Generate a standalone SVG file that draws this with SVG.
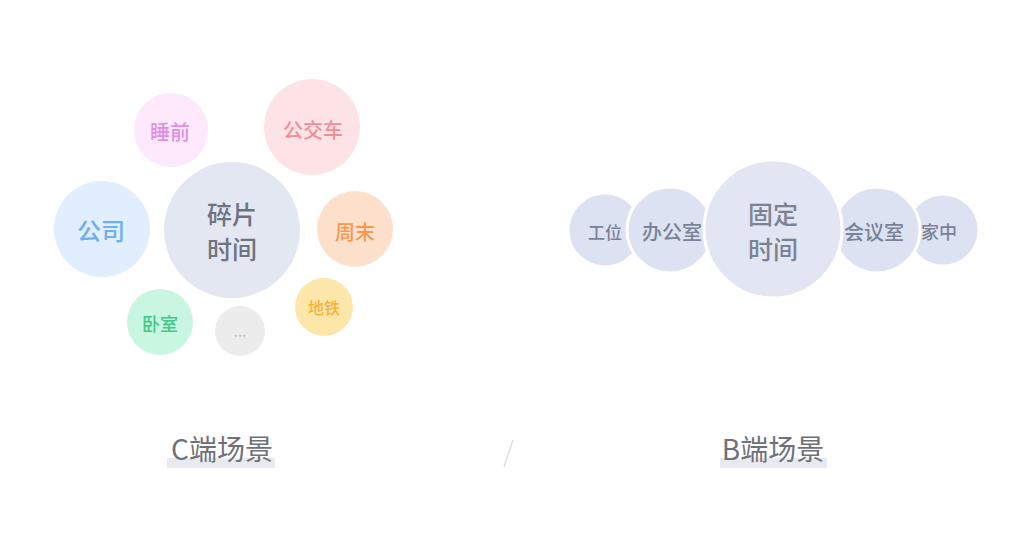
<svg xmlns="http://www.w3.org/2000/svg" width="1028" height="534" viewBox="0 0 1028 534">
<style>
text{font-family:"Noto Sans CJK SC","Noto Sans",sans-serif;text-anchor:middle;dominant-baseline:central;font-weight:500}
.b circle{fill:#dde2f3;stroke:#fff;stroke-width:3}
.b text{fill:#7a8296}
.lbl{font-size:28px;fill:#6f7178;dominant-baseline:alphabetic;font-weight:400}
</style>
<rect width="1028" height="534" fill="#fff"/>
<g id="c-scene">
<g id="c-shuiqian"><circle cx="171" cy="130" r="37" fill="#fde8fc"/><text x="170" y="131" font-size="20" fill="#e08ee3">睡前</text></g>
<g id="c-gongjiaoche"><circle cx="312" cy="127" r="48" fill="#fde3e6"/><text x="313" y="129" font-size="20" fill="#ef8e98">公交车</text></g>
<g id="c-gongsi"><circle cx="102" cy="229" r="48" fill="#e0eefd"/><text x="101" y="229" font-size="24" fill="#6dafef">公司</text></g>
<g id="c-center"><circle cx="232" cy="230" r="68" fill="#e3e7f1"/><text x="232" y="213" font-size="25" fill="#6d7380">碎片</text><text x="232" y="248" font-size="25" fill="#6d7380">时间</text></g>
<g id="c-zhoumo"><circle cx="355" cy="229" r="38" fill="#fde0cc"/><text x="355" y="231" font-size="20" fill="#f39a50">周末</text></g>
<g id="c-ditie"><circle cx="324" cy="307" r="29" fill="#fde6a9"/><text x="324" y="307" font-size="16" fill="#f2b43c">地铁</text></g>
<g id="c-woshi"><circle cx="160" cy="322" r="33" fill="#c9f6e1"/><text x="160" y="323" font-size="18" fill="#40c88b">卧室</text></g>
<g id="c-more"><circle cx="240" cy="331" r="25" fill="#ececed"/><text x="240" y="331" font-size="14" fill="#c2c2c4">...</text></g>
</g>
<g id="b-scene" class="b">
<g id="b-gongwei"><circle cx="605" cy="230" r="37"/><text x="605" y="231" font-size="17">工位</text></g>
<g id="b-jiazhong"><circle cx="943" cy="230" r="36"/><text x="939" y="231" font-size="18">家中</text></g>
<g id="b-bangongshi"><circle cx="670" cy="230" r="43"/><text x="672" y="231" font-size="20">办公室</text></g>
<g id="b-huiyishi"><circle cx="877" cy="230" r="43"/><text x="874" y="231" font-size="20">会议室</text></g>
<g id="b-center"><circle cx="773" cy="229" r="69" style="fill:#e2e6f2"/><text x="773" y="213" font-size="25">固定</text><text x="773" y="248" font-size="25">时间</text></g>
</g>
<g id="labels">
<rect x="167" y="458" width="108" height="10" fill="#e9eaef"/>
<text class="lbl" x="222" y="460">C端场景</text>
<rect x="720" y="458" width="107" height="10" fill="#e9eaef"/>
<text class="lbl" x="773" y="460">B端场景</text>
<line x1="513" y1="440" x2="504" y2="467" stroke="#dcdde0" stroke-width="1.5"/>
</g>
</svg>
